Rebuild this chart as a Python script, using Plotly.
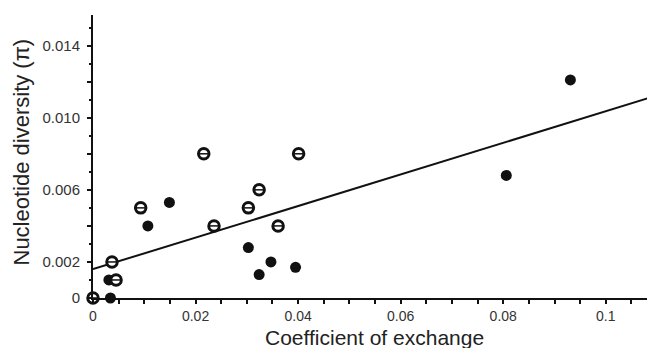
import plotly.graph_objects as go

# Open symbols (circle with bar)
open_x = [0.0, 0.0037, 0.0045, 0.0093, 0.0216, 0.0236, 0.0303, 0.0324, 0.0361, 0.0401]
open_y = [0.0, 0.0020, 0.0010, 0.0050, 0.0080, 0.0040, 0.0050, 0.0060, 0.0040, 0.0080]

# Filled symbols
filled_x = [0.0034, 0.0031, 0.0107, 0.0149, 0.0303, 0.0324, 0.0347, 0.0395, 0.0806, 0.0931]
filled_y = [0.0, 0.0010, 0.0040, 0.0053, 0.0028, 0.0013, 0.0020, 0.0017, 0.0068, 0.0121]

# Regression line end points
line_x = [0.0, 0.1096]
line_y = [0.0016, 0.0112]

y_tickvals = [0, 0.002, 0.004, 0.006, 0.008, 0.010, 0.012, 0.014]
y_ticktext = ["0", "0.002", "", "0.006", "", "0.010", "", "0.014"]
x_tickvals = [0, 0.02, 0.04, 0.06, 0.08, 0.1]
x_ticktext = ["0", "0.02", "0.04", "0.06", "0.08", "0.1"]

x_title = "Coefficient of exchange"
y_title = "Nucleotide diversity (π)"

fig = go.Figure()
fig.add_trace(go.Scatter(x=line_x, y=line_y, mode="lines",
                         line=dict(color="#111", width=2), cliponaxis=False))
fig.add_trace(go.Scatter(x=filled_x, y=filled_y, mode="markers", cliponaxis=False,
                         marker=dict(symbol="circle", size=11, color="#111",
                                     line=dict(width=0))))
fig.add_trace(go.Scatter(x=open_x, y=open_y, mode="markers", cliponaxis=False,
                         marker=dict(symbol="circle", size=10.5, color="white",
                                     line=dict(width=3, color="#111"))))
fig.add_trace(go.Scatter(x=open_x, y=open_y, mode="markers", cliponaxis=False,
                         marker=dict(symbol="line-ew", size=6,
                                     line=dict(width=1.5, color="#111"))))

font = "Liberation Sans, Arial, Helvetica, sans-serif"
# page body has an 8px default margin; figure is sized to compensate
fig.update_layout(
    width=647, height=340,
    margin=dict(l=85, r=0, t=7, b=50),
    paper_bgcolor="white", plot_bgcolor="white",
    showlegend=False,
    font=dict(family=font, color="#333"),
    xaxis=dict(range=[0, 0.1096], showgrid=False, zeroline=False, automargin=False,
               showline=True, linecolor="#111", linewidth=2,
               tickvals=x_tickvals, ticktext=x_ticktext,
               ticks="outside", ticklen=4, tickwidth=1.5, tickcolor="#111",
               tickfont=dict(size=14, color="#333"),
               minor=dict(dtick=0.005, ticks="outside", ticklen=4, tickwidth=1.5, tickcolor="#111")),
    yaxis=dict(range=[0, 0.0157], showgrid=False, zeroline=False, automargin=False,
               showline=True, linecolor="#111", linewidth=2,
               tickvals=y_tickvals, ticktext=y_ticktext,
               ticks="outside", ticklen=4, tickwidth=1.5, tickcolor="#111",
               ticklabelstandoff=4,
               tickfont=dict(size=15, color="#333"),
               minor=dict(dtick=0.001, ticks="outside", ticklen=2, tickwidth=1.5, tickcolor="#111")),
    annotations=[
        dict(text=x_title, xref="paper", yref="paper", x=0.5, y=0, yshift=-39,
             xanchor="center", yanchor="middle", showarrow=False,
             font=dict(size=21, color="#222")),
        dict(text=y_title, xref="paper", yref="paper", x=0, y=0.5, xshift=-72, yshift=4,
             xanchor="center", yanchor="middle", textangle=-90, showarrow=False,
             font=dict(size=22, color="#222")),
    ],
)
fig.write_html("out.html")
